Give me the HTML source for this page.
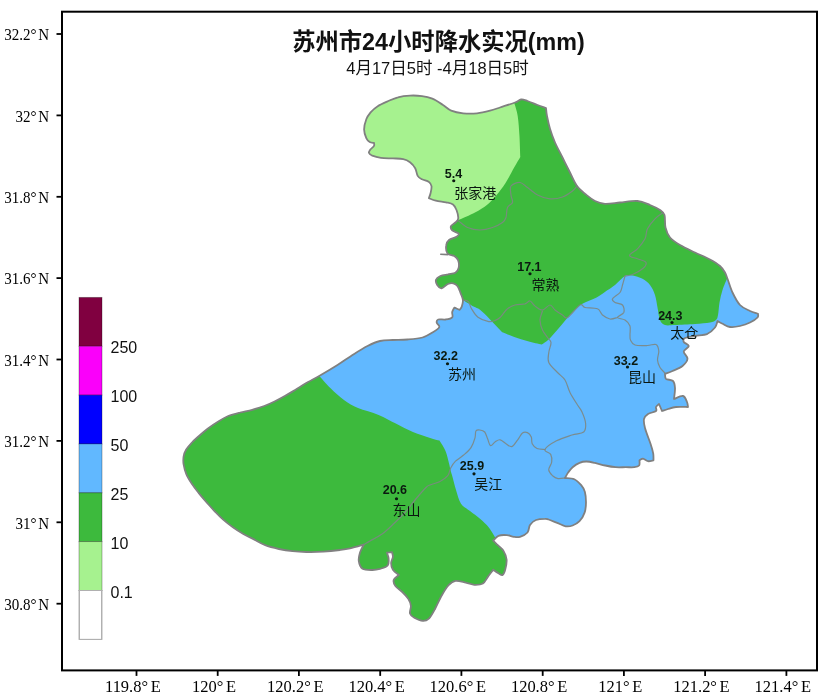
<!DOCTYPE html>
<html lang="zh-CN"><head><meta charset="utf-8"><title>苏州市24小时降水实况</title>
<style>html,body{margin:0;padding:0;background:#fff}svg{display:block}</style></head>
<body>
<svg width="824" height="699" viewBox="0 0 824 699">
<rect width="824" height="699" fill="#fff"/>
<defs><clipPath id="oc"><path d="M521.0,99.5C523.1,99.2 524.8,100.1 527.5,101.0C530.2,101.9 534.4,103.8 537.5,105.0C540.6,106.2 544.3,107.4 546.0,108.0C546.2,109.6 546.3,112.5 547.0,116.0C547.7,119.5 548.7,124.3 550.0,128.8C551.3,133.2 552.9,137.7 555.0,142.5C557.1,147.3 560.0,152.5 562.5,157.5C565.0,162.5 567.6,167.8 570.0,172.5C572.4,177.2 574.5,182.5 577.0,186.0C579.5,189.5 582.0,191.2 585.0,193.8C588.0,196.2 591.7,199.3 595.0,201.0C598.3,202.7 600.8,203.5 605.0,203.8C609.2,204.0 614.6,203.0 620.0,202.5C625.4,202.0 632.5,200.6 637.5,201.0C642.5,201.4 646.2,203.5 650.0,205.0C653.8,206.5 657.6,208.3 660.0,210.0C662.4,211.7 663.6,212.1 664.5,215.0C665.4,217.9 664.6,223.8 665.5,227.5C666.4,231.2 667.6,234.6 670.0,237.5C672.4,240.4 675.8,242.5 680.0,245.0C684.2,247.5 690.0,250.1 695.0,252.5C700.0,254.9 705.8,257.2 710.0,259.5C714.2,261.8 717.5,263.8 720.0,266.0C722.5,268.2 723.8,270.4 725.0,272.5C726.2,274.6 726.2,275.4 727.5,278.8C728.8,282.1 730.4,288.1 732.5,292.5C734.6,296.9 737.1,301.9 740.0,305.0C742.9,308.1 747.0,309.5 750.0,311.0C753.0,312.5 756.4,313.2 758.0,313.8C757.9,314.5 758.8,316.0 757.5,317.5C756.2,319.0 752.9,321.1 750.0,322.5C747.1,323.9 743.3,325.2 740.0,326.0C736.7,326.8 732.9,327.4 730.0,327.0C727.1,326.6 724.6,324.8 722.5,323.8C720.4,322.8 718.5,321.6 717.5,321.0C717.0,322.3 716.7,325.4 715.0,327.5C713.3,329.6 710.8,332.3 707.5,333.8C704.2,335.2 698.8,335.3 695.0,336.0C691.2,336.7 686.9,337.0 685.0,338.0C683.1,339.0 683.1,340.7 683.8,342.0C684.4,343.3 688.8,344.4 688.8,346.0C688.8,347.6 684.0,349.4 683.8,351.5C683.5,353.6 687.7,356.3 687.5,358.8C687.3,361.2 685.0,364.0 682.5,366.0C680.0,368.0 675.4,369.7 672.5,371.0C669.6,372.3 666.5,373.2 665.0,373.8C665.2,374.8 664.7,377.5 666.0,378.8C667.3,380.0 671.5,379.5 673.0,381.0C674.5,382.5 674.8,385.0 675.0,388.0C675.2,391.0 674.2,396.8 674.0,399.0C675.8,398.4 680.8,395.5 683.0,396.0C685.2,396.5 686.2,400.2 687.0,402.0C687.8,403.8 687.8,406.0 688.0,407.0C685.6,407.0 679.3,406.7 676.0,407.0C672.7,407.3 670.3,408.3 668.0,409.0C665.7,409.7 663.2,410.6 662.0,411.0C661.4,409.6 659.6,405.4 659.0,404.0C658.4,404.6 656.5,405.8 656.0,407.0C655.5,408.2 657.3,409.8 656.0,411.0C654.7,412.2 650.0,412.7 648.0,414.0C646.0,415.3 644.5,416.7 644.0,419.0C643.5,421.3 643.9,423.8 645.0,428.0C646.1,432.2 649.2,439.8 650.6,444.0C652.0,448.2 652.7,450.7 653.2,453.4C653.7,456.1 653.4,458.9 653.5,460.3C652.4,460.5 649.8,461.5 648.0,461.2C646.2,460.9 644.4,458.8 643.0,458.6C641.6,458.5 640.2,460.0 639.5,460.3C639.4,461.3 640.0,464.4 639.1,465.5C638.2,466.6 636.5,466.9 634.3,467.2C632.1,467.5 628.9,467.2 625.8,467.2C622.7,467.2 618.9,467.5 615.5,467.2C612.1,466.9 608.6,466.2 605.2,465.5C601.8,464.8 598.0,463.6 594.9,462.9C591.8,462.2 588.9,461.5 586.3,461.5C583.7,461.5 581.8,461.9 579.5,462.9C577.2,463.8 574.5,465.6 572.6,467.2C570.7,468.8 569.6,470.5 568.3,472.3C567.0,474.1 565.6,476.9 564.9,478.0C566.8,478.2 571.6,478.0 574.3,479.2C577.0,480.4 579.4,483.1 581.2,485.2C583.0,487.3 584.1,489.1 584.9,492.0C585.7,494.9 586.0,498.9 586.0,502.3C586.0,505.7 585.7,509.5 584.6,512.6C583.5,515.8 581.5,519.1 579.5,521.2C577.5,523.4 574.9,524.6 572.6,525.5C570.3,526.4 568.3,526.7 565.7,526.3C563.1,525.9 560.1,524.0 557.2,522.9C554.4,521.8 550.6,520.2 548.6,519.5C546.6,518.8 547.1,518.7 545.0,518.8C542.9,518.8 538.5,519.0 536.0,520.0C533.5,521.0 531.4,522.9 530.0,525.0C528.6,527.1 529.2,530.5 527.5,532.5C525.8,534.5 522.3,536.1 520.0,536.8C517.7,537.5 516.0,537.1 513.8,536.8C511.6,536.5 509.5,535.3 506.9,535.1C504.3,534.9 500.7,534.9 498.4,535.8C496.1,536.7 494.2,539.6 493.2,540.6C494.2,541.6 496.7,544.0 498.4,545.7C500.1,547.4 502.1,548.6 503.5,550.9C504.9,553.2 506.3,556.4 506.6,559.5C506.9,562.6 505.9,567.1 505.2,569.7C504.5,572.3 503.7,574.3 502.6,574.9C501.5,575.5 500.0,574.1 498.4,573.2C496.8,572.3 494.2,570.4 493.2,569.7C492.2,571.1 489.7,574.3 488.0,576.6C486.3,578.9 485.2,582.1 482.9,583.5C480.6,584.9 477.1,584.9 474.3,584.8C471.5,584.6 468.9,583.2 465.8,582.6C462.7,582.0 458.4,580.5 455.5,580.9C452.6,581.3 450.9,582.8 448.6,585.2C446.3,587.6 444.0,591.5 441.7,595.5C439.4,599.5 437.0,605.4 434.9,609.2C432.8,613.1 430.9,616.7 428.9,618.6C426.9,620.5 425.3,621.0 422.9,620.9C420.5,620.8 416.4,619.0 414.3,617.8C412.2,616.6 410.6,615.5 410.0,613.5C409.4,611.5 411.2,608.2 410.9,605.8C410.6,603.4 409.7,601.2 408.3,598.9C406.9,596.6 404.5,594.1 402.3,592.0C400.1,589.9 396.8,588.0 395.4,586.0C394.0,584.0 393.1,581.9 393.7,580.0C394.3,578.1 397.9,575.9 398.9,574.9C397.7,573.9 394.2,571.7 392.9,569.7C391.6,567.7 391.1,565.0 391.1,562.9C391.1,560.8 392.8,558.7 392.9,556.9C393.0,555.1 392.2,553.1 392.0,552.2C391.0,552.3 387.9,552.5 386.9,552.6C387.2,553.8 388.5,556.5 388.6,558.6C388.7,560.8 389.1,563.8 387.7,565.5C386.3,567.2 382.5,568.1 380.0,568.9C377.5,569.6 375.4,570.0 372.5,570.0C369.6,570.0 364.8,570.2 362.5,568.8C360.2,567.2 359.2,563.7 358.8,561.0C358.3,558.3 359.2,555.2 360.0,552.5C360.8,549.8 363.0,546.1 363.8,544.5C361.0,545.3 354.0,547.4 350.0,548.3C346.0,549.2 344.4,549.4 340.0,550.0C335.6,550.6 329.1,551.4 323.5,551.7C317.9,552.0 311.4,552.1 306.3,552.0C301.2,551.9 297.2,551.7 292.6,551.2C288.0,550.7 283.5,550.0 278.9,549.0C274.3,548.0 269.5,546.9 265.2,545.2C260.9,543.5 256.7,540.8 253.0,538.9C249.3,537.0 246.2,535.6 242.9,533.7C239.6,531.8 236.2,529.7 232.9,527.3C229.6,524.9 226.0,522.1 222.9,519.4C219.8,516.6 217.2,513.8 214.3,510.8C211.5,507.8 208.4,504.5 205.8,501.5C203.2,498.5 200.9,495.8 198.6,492.9C196.3,490.0 194.2,487.4 192.2,484.3C190.2,481.2 187.8,477.6 186.4,474.3C185.0,471.0 184.1,467.3 183.6,464.3C183.1,461.3 183.2,459.0 183.6,456.5C184.0,454.0 184.8,451.8 186.2,449.5C187.6,447.2 189.9,444.8 192.0,442.5C194.1,440.2 196.4,438.3 199.0,436.0C201.6,433.7 204.4,431.1 207.6,428.7C210.8,426.3 214.5,423.8 217.9,421.7C221.3,419.6 224.5,417.5 228.2,416.0C231.9,414.5 236.2,413.5 240.2,412.5C244.2,411.5 248.2,410.9 252.2,409.8C256.2,408.7 260.5,407.4 264.2,406.0C267.9,404.6 271.1,403.2 274.5,401.5C277.9,399.8 281.4,397.9 284.8,396.0C288.2,394.1 291.7,392.0 295.1,390.0C298.5,388.0 300.9,386.2 305.0,383.8C309.1,381.3 314.6,378.6 320.0,375.5C325.4,372.4 332.1,368.4 337.5,365.0C342.9,361.6 347.5,358.2 352.5,355.0C357.5,351.8 362.9,348.3 367.5,346.0C372.1,343.7 375.8,342.0 380.0,341.0C384.2,340.0 387.9,340.2 392.5,340.0C397.1,339.8 402.5,339.9 407.5,339.5C412.5,339.1 418.3,338.7 422.5,337.5C426.7,336.3 430.1,334.1 432.9,332.3C435.7,330.6 438.7,328.6 439.3,327.0C439.9,325.4 436.9,323.9 436.7,322.7C436.5,321.4 436.7,320.0 438.2,319.5C439.7,319.0 443.5,319.9 445.8,319.5C448.1,319.1 451.1,318.6 452.2,317.3C453.3,316.1 451.8,313.6 452.2,312.0C452.6,310.4 453.9,308.6 454.3,307.7C455.4,308.1 458.6,309.4 459.7,309.8C460.1,309.2 461.3,308.2 461.8,306.6C462.3,305.0 463.1,302.1 462.9,300.0C462.7,297.9 461.7,296.0 460.8,293.7C459.9,291.4 458.9,287.9 457.6,286.2C456.4,284.5 454.9,283.8 453.3,283.4C451.7,283.0 449.9,283.2 447.9,284.0C445.9,284.8 443.3,288.1 441.5,288.3C439.7,288.5 438.1,286.4 437.2,285.0C436.3,283.6 435.5,281.3 436.0,279.8C436.5,278.3 438.4,276.9 440.4,276.0C442.4,275.1 445.4,274.9 447.9,274.4C450.4,273.8 453.6,273.8 455.4,272.7C457.2,271.6 458.1,270.0 458.6,268.0C459.1,266.0 458.9,262.5 458.2,260.5C457.5,258.5 456.1,257.2 454.3,256.0C452.5,254.8 448.9,255.3 447.5,253.5C446.1,251.7 445.9,247.7 446.2,245.4C446.4,243.2 447.3,241.4 449.0,240.0C450.7,238.6 454.9,237.9 456.5,236.8C458.1,235.7 459.3,234.7 458.6,233.6C457.9,232.5 453.5,231.7 452.2,230.4C450.9,229.1 450.5,227.3 451.0,226.0C451.5,224.7 454.2,223.7 455.4,222.5C456.6,221.3 458.0,220.7 458.2,218.6C458.4,216.5 457.4,212.3 456.5,210.0C455.6,207.7 454.8,205.8 453.0,204.5C451.2,203.2 448.9,203.0 446.0,202.3C443.1,201.7 438.7,201.3 435.8,200.6C432.9,199.9 430.3,198.7 428.9,198.2C429.2,197.2 430.2,195.0 430.6,193.0C431.0,191.0 431.8,188.0 431.5,186.2C431.2,184.3 430.5,183.1 428.9,181.9C427.3,180.8 423.9,180.3 422.0,179.3C420.1,178.3 418.8,177.8 417.7,175.9C416.6,174.1 416.5,170.5 415.2,168.2C413.9,165.9 412.0,163.7 410.0,162.2C408.0,160.7 406.1,159.7 403.2,159.1C400.3,158.5 396.6,158.6 392.9,158.4C389.2,158.2 384.3,158.4 380.9,157.9C377.5,157.4 374.3,156.5 372.3,155.7C370.3,154.8 369.2,153.9 368.9,152.8C368.6,151.7 369.8,150.5 370.6,149.3C371.5,148.2 373.4,147.0 374.0,145.9C374.6,144.8 374.0,143.6 374.0,143.0C373.1,142.8 371.0,142.8 369.7,142.0C368.4,141.2 367.2,140.3 366.3,138.2C365.4,136.1 364.1,132.8 364.1,129.6C364.1,126.4 365.2,122.2 366.3,119.3C367.4,116.4 368.8,114.6 370.6,112.4C372.5,110.2 374.5,108.2 377.4,106.4C380.2,104.6 384.3,102.8 387.7,101.3C391.1,99.8 394.3,98.2 398.0,97.3C401.7,96.3 406.0,95.8 410.0,95.6C414.0,95.4 418.3,95.6 422.0,96.1C425.7,96.6 428.9,97.3 432.3,98.7C435.7,100.1 439.5,102.7 442.6,104.7C445.8,106.7 447.8,109.3 451.2,110.7C454.6,112.1 458.9,112.9 463.2,113.3C467.5,113.7 472.5,113.7 477.0,113.3C481.5,112.9 486.2,111.7 490.0,110.7C493.8,109.7 495.8,108.9 500.0,107.5C504.2,106.1 511.5,103.8 515.0,102.5C518.5,101.2 518.9,99.8 521.0,99.5Z"/></clipPath></defs>
<path d="M521.0,99.5C523.1,99.2 524.8,100.1 527.5,101.0C530.2,101.9 534.4,103.8 537.5,105.0C540.6,106.2 544.3,107.4 546.0,108.0C546.2,109.6 546.3,112.5 547.0,116.0C547.7,119.5 548.7,124.3 550.0,128.8C551.3,133.2 552.9,137.7 555.0,142.5C557.1,147.3 560.0,152.5 562.5,157.5C565.0,162.5 567.6,167.8 570.0,172.5C572.4,177.2 574.5,182.5 577.0,186.0C579.5,189.5 582.0,191.2 585.0,193.8C588.0,196.2 591.7,199.3 595.0,201.0C598.3,202.7 600.8,203.5 605.0,203.8C609.2,204.0 614.6,203.0 620.0,202.5C625.4,202.0 632.5,200.6 637.5,201.0C642.5,201.4 646.2,203.5 650.0,205.0C653.8,206.5 657.6,208.3 660.0,210.0C662.4,211.7 663.6,212.1 664.5,215.0C665.4,217.9 664.6,223.8 665.5,227.5C666.4,231.2 667.6,234.6 670.0,237.5C672.4,240.4 675.8,242.5 680.0,245.0C684.2,247.5 690.0,250.1 695.0,252.5C700.0,254.9 705.8,257.2 710.0,259.5C714.2,261.8 717.5,263.8 720.0,266.0C722.5,268.2 723.8,270.4 725.0,272.5C726.2,274.6 726.2,275.4 727.5,278.8C728.8,282.1 730.4,288.1 732.5,292.5C734.6,296.9 737.1,301.9 740.0,305.0C742.9,308.1 747.0,309.5 750.0,311.0C753.0,312.5 756.4,313.2 758.0,313.8C757.9,314.5 758.8,316.0 757.5,317.5C756.2,319.0 752.9,321.1 750.0,322.5C747.1,323.9 743.3,325.2 740.0,326.0C736.7,326.8 732.9,327.4 730.0,327.0C727.1,326.6 724.6,324.8 722.5,323.8C720.4,322.8 718.5,321.6 717.5,321.0C717.0,322.3 716.7,325.4 715.0,327.5C713.3,329.6 710.8,332.3 707.5,333.8C704.2,335.2 698.8,335.3 695.0,336.0C691.2,336.7 686.9,337.0 685.0,338.0C683.1,339.0 683.1,340.7 683.8,342.0C684.4,343.3 688.8,344.4 688.8,346.0C688.8,347.6 684.0,349.4 683.8,351.5C683.5,353.6 687.7,356.3 687.5,358.8C687.3,361.2 685.0,364.0 682.5,366.0C680.0,368.0 675.4,369.7 672.5,371.0C669.6,372.3 666.5,373.2 665.0,373.8C665.2,374.8 664.7,377.5 666.0,378.8C667.3,380.0 671.5,379.5 673.0,381.0C674.5,382.5 674.8,385.0 675.0,388.0C675.2,391.0 674.2,396.8 674.0,399.0C675.8,398.4 680.8,395.5 683.0,396.0C685.2,396.5 686.2,400.2 687.0,402.0C687.8,403.8 687.8,406.0 688.0,407.0C685.6,407.0 679.3,406.7 676.0,407.0C672.7,407.3 670.3,408.3 668.0,409.0C665.7,409.7 663.2,410.6 662.0,411.0C661.4,409.6 659.6,405.4 659.0,404.0C658.4,404.6 656.5,405.8 656.0,407.0C655.5,408.2 657.3,409.8 656.0,411.0C654.7,412.2 650.0,412.7 648.0,414.0C646.0,415.3 644.5,416.7 644.0,419.0C643.5,421.3 643.9,423.8 645.0,428.0C646.1,432.2 649.2,439.8 650.6,444.0C652.0,448.2 652.7,450.7 653.2,453.4C653.7,456.1 653.4,458.9 653.5,460.3C652.4,460.5 649.8,461.5 648.0,461.2C646.2,460.9 644.4,458.8 643.0,458.6C641.6,458.5 640.2,460.0 639.5,460.3C639.4,461.3 640.0,464.4 639.1,465.5C638.2,466.6 636.5,466.9 634.3,467.2C632.1,467.5 628.9,467.2 625.8,467.2C622.7,467.2 618.9,467.5 615.5,467.2C612.1,466.9 608.6,466.2 605.2,465.5C601.8,464.8 598.0,463.6 594.9,462.9C591.8,462.2 588.9,461.5 586.3,461.5C583.7,461.5 581.8,461.9 579.5,462.9C577.2,463.8 574.5,465.6 572.6,467.2C570.7,468.8 569.6,470.5 568.3,472.3C567.0,474.1 565.6,476.9 564.9,478.0C566.8,478.2 571.6,478.0 574.3,479.2C577.0,480.4 579.4,483.1 581.2,485.2C583.0,487.3 584.1,489.1 584.9,492.0C585.7,494.9 586.0,498.9 586.0,502.3C586.0,505.7 585.7,509.5 584.6,512.6C583.5,515.8 581.5,519.1 579.5,521.2C577.5,523.4 574.9,524.6 572.6,525.5C570.3,526.4 568.3,526.7 565.7,526.3C563.1,525.9 560.1,524.0 557.2,522.9C554.4,521.8 550.6,520.2 548.6,519.5C546.6,518.8 547.1,518.7 545.0,518.8C542.9,518.8 538.5,519.0 536.0,520.0C533.5,521.0 531.4,522.9 530.0,525.0C528.6,527.1 529.2,530.5 527.5,532.5C525.8,534.5 522.3,536.1 520.0,536.8C517.7,537.5 516.0,537.1 513.8,536.8C511.6,536.5 509.5,535.3 506.9,535.1C504.3,534.9 500.7,534.9 498.4,535.8C496.1,536.7 494.2,539.6 493.2,540.6C494.2,541.6 496.7,544.0 498.4,545.7C500.1,547.4 502.1,548.6 503.5,550.9C504.9,553.2 506.3,556.4 506.6,559.5C506.9,562.6 505.9,567.1 505.2,569.7C504.5,572.3 503.7,574.3 502.6,574.9C501.5,575.5 500.0,574.1 498.4,573.2C496.8,572.3 494.2,570.4 493.2,569.7C492.2,571.1 489.7,574.3 488.0,576.6C486.3,578.9 485.2,582.1 482.9,583.5C480.6,584.9 477.1,584.9 474.3,584.8C471.5,584.6 468.9,583.2 465.8,582.6C462.7,582.0 458.4,580.5 455.5,580.9C452.6,581.3 450.9,582.8 448.6,585.2C446.3,587.6 444.0,591.5 441.7,595.5C439.4,599.5 437.0,605.4 434.9,609.2C432.8,613.1 430.9,616.7 428.9,618.6C426.9,620.5 425.3,621.0 422.9,620.9C420.5,620.8 416.4,619.0 414.3,617.8C412.2,616.6 410.6,615.5 410.0,613.5C409.4,611.5 411.2,608.2 410.9,605.8C410.6,603.4 409.7,601.2 408.3,598.9C406.9,596.6 404.5,594.1 402.3,592.0C400.1,589.9 396.8,588.0 395.4,586.0C394.0,584.0 393.1,581.9 393.7,580.0C394.3,578.1 397.9,575.9 398.9,574.9C397.7,573.9 394.2,571.7 392.9,569.7C391.6,567.7 391.1,565.0 391.1,562.9C391.1,560.8 392.8,558.7 392.9,556.9C393.0,555.1 392.2,553.1 392.0,552.2C391.0,552.3 387.9,552.5 386.9,552.6C387.2,553.8 388.5,556.5 388.6,558.6C388.7,560.8 389.1,563.8 387.7,565.5C386.3,567.2 382.5,568.1 380.0,568.9C377.5,569.6 375.4,570.0 372.5,570.0C369.6,570.0 364.8,570.2 362.5,568.8C360.2,567.2 359.2,563.7 358.8,561.0C358.3,558.3 359.2,555.2 360.0,552.5C360.8,549.8 363.0,546.1 363.8,544.5C361.0,545.3 354.0,547.4 350.0,548.3C346.0,549.2 344.4,549.4 340.0,550.0C335.6,550.6 329.1,551.4 323.5,551.7C317.9,552.0 311.4,552.1 306.3,552.0C301.2,551.9 297.2,551.7 292.6,551.2C288.0,550.7 283.5,550.0 278.9,549.0C274.3,548.0 269.5,546.9 265.2,545.2C260.9,543.5 256.7,540.8 253.0,538.9C249.3,537.0 246.2,535.6 242.9,533.7C239.6,531.8 236.2,529.7 232.9,527.3C229.6,524.9 226.0,522.1 222.9,519.4C219.8,516.6 217.2,513.8 214.3,510.8C211.5,507.8 208.4,504.5 205.8,501.5C203.2,498.5 200.9,495.8 198.6,492.9C196.3,490.0 194.2,487.4 192.2,484.3C190.2,481.2 187.8,477.6 186.4,474.3C185.0,471.0 184.1,467.3 183.6,464.3C183.1,461.3 183.2,459.0 183.6,456.5C184.0,454.0 184.8,451.8 186.2,449.5C187.6,447.2 189.9,444.8 192.0,442.5C194.1,440.2 196.4,438.3 199.0,436.0C201.6,433.7 204.4,431.1 207.6,428.7C210.8,426.3 214.5,423.8 217.9,421.7C221.3,419.6 224.5,417.5 228.2,416.0C231.9,414.5 236.2,413.5 240.2,412.5C244.2,411.5 248.2,410.9 252.2,409.8C256.2,408.7 260.5,407.4 264.2,406.0C267.9,404.6 271.1,403.2 274.5,401.5C277.9,399.8 281.4,397.9 284.8,396.0C288.2,394.1 291.7,392.0 295.1,390.0C298.5,388.0 300.9,386.2 305.0,383.8C309.1,381.3 314.6,378.6 320.0,375.5C325.4,372.4 332.1,368.4 337.5,365.0C342.9,361.6 347.5,358.2 352.5,355.0C357.5,351.8 362.9,348.3 367.5,346.0C372.1,343.7 375.8,342.0 380.0,341.0C384.2,340.0 387.9,340.2 392.5,340.0C397.1,339.8 402.5,339.9 407.5,339.5C412.5,339.1 418.3,338.7 422.5,337.5C426.7,336.3 430.1,334.1 432.9,332.3C435.7,330.6 438.7,328.6 439.3,327.0C439.9,325.4 436.9,323.9 436.7,322.7C436.5,321.4 436.7,320.0 438.2,319.5C439.7,319.0 443.5,319.9 445.8,319.5C448.1,319.1 451.1,318.6 452.2,317.3C453.3,316.1 451.8,313.6 452.2,312.0C452.6,310.4 453.9,308.6 454.3,307.7C455.4,308.1 458.6,309.4 459.7,309.8C460.1,309.2 461.3,308.2 461.8,306.6C462.3,305.0 463.1,302.1 462.9,300.0C462.7,297.9 461.7,296.0 460.8,293.7C459.9,291.4 458.9,287.9 457.6,286.2C456.4,284.5 454.9,283.8 453.3,283.4C451.7,283.0 449.9,283.2 447.9,284.0C445.9,284.8 443.3,288.1 441.5,288.3C439.7,288.5 438.1,286.4 437.2,285.0C436.3,283.6 435.5,281.3 436.0,279.8C436.5,278.3 438.4,276.9 440.4,276.0C442.4,275.1 445.4,274.9 447.9,274.4C450.4,273.8 453.6,273.8 455.4,272.7C457.2,271.6 458.1,270.0 458.6,268.0C459.1,266.0 458.9,262.5 458.2,260.5C457.5,258.5 456.1,257.2 454.3,256.0C452.5,254.8 448.9,255.3 447.5,253.5C446.1,251.7 445.9,247.7 446.2,245.4C446.4,243.2 447.3,241.4 449.0,240.0C450.7,238.6 454.9,237.9 456.5,236.8C458.1,235.7 459.3,234.7 458.6,233.6C457.9,232.5 453.5,231.7 452.2,230.4C450.9,229.1 450.5,227.3 451.0,226.0C451.5,224.7 454.2,223.7 455.4,222.5C456.6,221.3 458.0,220.7 458.2,218.6C458.4,216.5 457.4,212.3 456.5,210.0C455.6,207.7 454.8,205.8 453.0,204.5C451.2,203.2 448.9,203.0 446.0,202.3C443.1,201.7 438.7,201.3 435.8,200.6C432.9,199.9 430.3,198.7 428.9,198.2C429.2,197.2 430.2,195.0 430.6,193.0C431.0,191.0 431.8,188.0 431.5,186.2C431.2,184.3 430.5,183.1 428.9,181.9C427.3,180.8 423.9,180.3 422.0,179.3C420.1,178.3 418.8,177.8 417.7,175.9C416.6,174.1 416.5,170.5 415.2,168.2C413.9,165.9 412.0,163.7 410.0,162.2C408.0,160.7 406.1,159.7 403.2,159.1C400.3,158.5 396.6,158.6 392.9,158.4C389.2,158.2 384.3,158.4 380.9,157.9C377.5,157.4 374.3,156.5 372.3,155.7C370.3,154.8 369.2,153.9 368.9,152.8C368.6,151.7 369.8,150.5 370.6,149.3C371.5,148.2 373.4,147.0 374.0,145.9C374.6,144.8 374.0,143.6 374.0,143.0C373.1,142.8 371.0,142.8 369.7,142.0C368.4,141.2 367.2,140.3 366.3,138.2C365.4,136.1 364.1,132.8 364.1,129.6C364.1,126.4 365.2,122.2 366.3,119.3C367.4,116.4 368.8,114.6 370.6,112.4C372.5,110.2 374.5,108.2 377.4,106.4C380.2,104.6 384.3,102.8 387.7,101.3C391.1,99.8 394.3,98.2 398.0,97.3C401.7,96.3 406.0,95.8 410.0,95.6C414.0,95.4 418.3,95.6 422.0,96.1C425.7,96.6 428.9,97.3 432.3,98.7C435.7,100.1 439.5,102.7 442.6,104.7C445.8,106.7 447.8,109.3 451.2,110.7C454.6,112.1 458.9,112.9 463.2,113.3C467.5,113.7 472.5,113.7 477.0,113.3C481.5,112.9 486.2,111.7 490.0,110.7C493.8,109.7 495.8,108.9 500.0,107.5C504.2,106.1 511.5,103.8 515.0,102.5C518.5,101.2 518.9,99.8 521.0,99.5Z" fill="#3dba3d"/>
<g clip-path="url(#oc)"><path d="M514.3,103.0C514.9,105.2 516.8,110.3 517.7,115.9C518.6,121.5 519.1,129.7 519.5,136.5C519.9,143.3 520.1,152.9 520.3,157.0C519.1,159.1 516.7,163.0 514.3,167.3C511.9,171.6 508.8,177.9 505.7,182.8C502.6,187.7 498.5,192.8 495.4,196.5C492.3,200.2 490.3,202.3 486.9,205.0C483.5,207.7 479.7,210.0 475.0,212.5C470.3,215.0 461.2,218.8 458.5,220.0L440.0,225.0L340.0,225.0L340.0,80.0L514.0,80.0Z" fill="#a6f28f"/><path d="M462.9,300.0C464.7,301.1 470.8,305.0 473.6,306.6C476.5,308.2 477.2,307.6 480.0,309.8C482.8,312.0 486.6,315.9 490.3,319.7C494.0,323.4 499.9,329.8 502.3,332.3C504.7,333.2 510.0,335.4 514.3,336.9C518.6,338.4 523.4,339.9 528.0,341.2C532.6,342.5 539.0,343.9 541.7,344.6C543.1,343.6 546.0,341.9 548.6,339.5C551.2,337.1 554.3,333.3 557.2,330.0C560.1,326.7 562.9,323.0 565.8,319.7C568.6,316.4 571.4,313.0 574.3,310.3C577.1,307.6 579.2,305.5 582.9,303.4C586.6,301.2 592.6,299.5 596.6,297.4C600.6,295.3 603.8,292.7 606.9,290.6C610.0,288.5 612.0,287.4 615.0,285.0C618.0,282.6 622.1,277.6 625.0,276.0C627.9,274.4 629.6,275.0 632.5,275.5C635.4,276.0 639.6,277.2 642.5,278.8C645.4,280.3 647.9,282.3 650.0,285.0C652.1,287.7 653.8,291.2 655.0,295.0C656.2,298.8 656.7,303.3 657.5,307.5C658.3,311.7 658.8,317.1 660.0,320.0C661.2,322.9 662.5,324.2 665.0,325.0C667.5,325.8 670.0,325.2 675.0,325.0C680.0,324.8 689.2,324.4 695.0,324.0C700.8,323.6 706.5,323.2 710.0,322.5C713.5,321.8 714.7,321.2 716.0,320.0C717.3,318.8 717.4,317.9 718.0,315.0C718.6,312.1 718.8,306.7 719.5,302.5C720.2,298.3 721.2,294.0 722.5,290.0C723.8,286.0 726.2,280.6 727.0,278.8L790.0,270.0L790.0,650.0L560.0,600.0L510.0,540.0L495.5,538.0C494.4,536.2 491.3,530.7 488.8,527.5C486.2,524.3 483.1,521.5 480.0,518.8C476.9,516.0 473.2,513.5 470.0,511.0C466.8,508.5 463.3,507.2 461.0,503.8C458.7,500.2 457.4,494.5 456.0,490.0C454.6,485.5 453.4,480.3 452.5,477.0C451.6,473.7 451.1,472.4 450.5,470.0C449.9,467.6 449.7,466.1 448.9,462.9C448.1,459.7 447.1,454.6 445.5,450.9C443.9,447.2 440.7,442.7 439.5,440.6C437.6,440.1 434.5,439.4 430.1,438.0C425.7,436.6 418.6,434.4 412.9,432.0C407.2,429.6 401.5,426.4 395.8,423.5C390.1,420.6 384.9,417.5 378.6,414.9C372.3,412.3 363.7,410.4 358.0,408.0C352.3,405.6 348.9,403.6 344.3,400.3C339.7,397.0 334.8,392.4 330.6,388.3C326.5,384.2 321.3,378.1 319.4,376.0L310.0,370.0L430.0,290.0Z" fill="#61b8ff"/></g>
<g fill="none" stroke="#7d8783" stroke-width="1.2" stroke-opacity="0.9" stroke-linejoin="round" stroke-linecap="round">
<path d="M577.0,186.0C576.2,186.8 574.9,189.2 572.5,191.0C570.1,192.8 566.2,195.7 562.5,197.0C558.8,198.3 554.2,199.1 550.0,198.8C545.8,198.4 541.2,196.9 537.5,195.0C533.8,193.1 530.4,189.6 527.5,187.5C524.6,185.4 522.8,182.8 520.0,182.5C517.2,182.2 512.5,183.9 511.0,186.0C509.5,188.1 510.8,192.2 511.0,195.0C511.2,197.8 513.1,200.4 512.5,202.5C511.9,204.6 508.6,205.0 507.5,207.5C506.4,210.0 506.8,215.0 506.0,217.5C505.2,220.0 504.8,220.8 502.5,222.5C500.2,224.2 496.2,226.2 492.5,227.5C488.8,228.8 484.2,230.0 480.0,230.0C475.8,230.0 471.0,229.0 467.5,227.5C464.0,226.0 460.2,222.1 458.8,221.0"/>
<path d="M662.5,213.0C661.2,214.0 657.5,216.1 655.0,218.8C652.5,221.4 649.2,225.4 647.5,228.8C645.8,232.1 646.7,235.4 645.0,238.8C643.3,242.1 640.1,246.0 637.5,248.8C634.9,251.5 629.5,253.8 629.5,255.5C629.5,257.2 634.8,257.6 637.5,258.8C640.2,259.9 645.2,260.8 646.0,262.5C646.8,264.2 644.8,266.8 642.5,268.8C640.2,270.8 635.4,273.3 632.5,274.5C629.6,275.7 626.2,275.8 625.0,276.0"/>
<path d="M625.0,276.0C624.6,277.5 623.3,282.2 622.5,285.0C621.7,287.8 621.7,290.2 620.0,292.5C618.3,294.8 613.3,297.1 612.5,298.8C611.7,300.4 613.3,301.5 615.0,302.5C616.7,303.5 621.0,303.3 622.5,305.0C624.0,306.7 624.6,310.4 623.8,312.5C622.9,314.6 617.3,316.2 617.5,317.5C617.7,318.8 622.9,318.6 625.0,320.0C627.1,321.4 629.2,323.5 630.0,326.0C630.8,328.5 629.9,332.7 630.0,335.0C630.1,337.3 629.7,338.3 630.5,340.0C631.3,341.7 632.2,344.1 635.0,345.0C637.8,345.9 644.0,345.6 647.5,345.5C651.0,345.4 654.1,343.6 656.0,344.5C657.9,345.4 658.5,348.4 658.8,351.0C659.0,353.6 657.3,357.2 657.5,360.0C657.7,362.8 658.8,365.3 660.0,367.5C661.2,369.7 664.2,372.1 665.0,373.0"/>
<path d="M462.9,300.0C463.8,300.2 466.9,300.1 468.3,301.5C469.7,302.9 469.9,306.1 471.5,308.7C473.1,311.3 475.1,315.1 478.0,317.3C480.9,319.5 485.9,321.1 488.7,321.6C491.5,322.1 493.1,321.2 495.0,320.5C496.9,319.8 497.9,319.5 500.0,317.5C502.1,315.5 505.0,310.8 507.5,308.8C510.0,306.7 512.1,305.8 515.0,305.0C517.9,304.2 522.5,304.4 525.0,303.8C527.5,303.1 528.3,300.6 530.0,301.0C531.7,301.4 532.9,304.5 535.0,306.0C537.1,307.5 540.0,310.2 542.5,310.0C545.0,309.8 547.9,305.0 550.0,305.0C552.1,305.0 552.9,308.3 555.0,310.0C557.1,311.7 560.4,313.8 562.5,315.0C564.6,316.2 564.6,319.2 567.5,317.5C570.4,315.8 577.1,306.7 580.0,305.0C582.9,303.3 582.1,306.9 585.0,307.5C587.9,308.1 594.6,307.5 597.5,308.8C600.4,310.0 600.4,313.3 602.5,315.0C604.6,316.7 607.5,318.6 610.0,319.0C612.5,319.4 616.2,317.8 617.5,317.5"/>
<path d="M542.5,311.0C542.1,312.5 540.0,316.8 540.0,320.0C540.0,323.2 541.2,327.1 542.5,330.0C543.8,332.9 546.1,335.4 547.5,337.5C548.9,339.6 550.8,340.0 551.0,342.5C551.2,345.0 549.1,349.2 548.8,352.5C548.4,355.8 547.3,359.2 548.8,362.5C550.2,365.8 554.8,369.6 557.5,372.5C560.2,375.4 562.9,376.7 565.0,380.0C567.1,383.3 567.9,388.3 570.0,392.5C572.1,396.7 575.5,401.8 577.5,405.0C579.5,408.2 580.6,408.9 582.0,412.0C583.4,415.1 585.3,420.0 585.6,423.3C585.9,426.6 586.0,430.1 583.7,432.0C581.4,433.9 576.5,433.5 572.0,435.0C567.5,436.5 561.0,438.4 556.5,440.8C552.0,443.2 545.9,447.2 544.9,449.5C543.9,451.8 549.6,452.3 550.7,454.4C551.8,456.5 552.0,459.4 551.7,462.0C551.4,464.6 548.6,467.6 548.7,469.9C548.9,472.2 551.1,474.2 552.6,475.7C554.1,477.1 556.0,478.2 558.0,478.6C560.0,479.0 563.8,478.1 564.9,478.0"/>
<path d="M544.9,449.5C543.6,449.3 539.1,449.5 537.0,448.5C534.9,447.5 533.2,445.6 532.2,443.7C531.2,441.8 532.1,438.8 531.3,436.9C530.5,435.0 528.9,433.2 527.4,432.6C525.9,432.0 524.1,431.8 522.5,433.0C520.9,434.2 519.5,437.5 517.7,439.8C515.9,442.1 513.8,446.0 511.8,446.6C509.9,447.2 507.9,444.8 506.0,443.7C504.1,442.6 502.0,440.1 500.2,439.8C498.4,439.5 496.9,440.7 495.3,441.7C493.7,442.7 491.8,446.1 490.5,445.6C489.2,445.1 488.6,441.1 487.6,438.8C486.6,436.5 486.0,433.5 484.7,432.0C483.4,430.5 481.3,430.2 479.8,430.0C478.3,429.8 476.7,429.7 475.9,431.0C475.1,432.3 475.8,435.1 475.0,437.9C474.2,440.7 472.9,444.7 471.0,447.6C469.1,450.5 465.9,453.0 463.3,455.3C460.7,457.6 457.6,459.1 455.5,461.2C453.4,463.3 452.0,465.6 450.7,468.0C449.4,470.4 449.6,473.4 447.8,475.7C446.0,477.9 443.0,479.9 440.0,481.5C437.0,483.1 432.3,484.0 430.0,485.0C427.7,486.0 428.5,485.0 426.0,487.5C423.5,490.0 418.5,495.8 415.0,500.0C411.5,504.2 408.3,508.8 405.0,512.5C401.7,516.2 398.8,519.0 395.0,522.5C391.2,526.0 386.7,530.7 382.5,533.8C378.3,536.8 373.1,539.2 370.0,541.0C366.9,542.8 364.8,543.9 363.8,544.5"/>
</g>
<path d="M440.2,254.2L448,254.6" fill="none" stroke="#808080" stroke-width="1.6"/>
<path d="M521.0,99.5C523.1,99.2 524.8,100.1 527.5,101.0C530.2,101.9 534.4,103.8 537.5,105.0C540.6,106.2 544.3,107.4 546.0,108.0C546.2,109.6 546.3,112.5 547.0,116.0C547.7,119.5 548.7,124.3 550.0,128.8C551.3,133.2 552.9,137.7 555.0,142.5C557.1,147.3 560.0,152.5 562.5,157.5C565.0,162.5 567.6,167.8 570.0,172.5C572.4,177.2 574.5,182.5 577.0,186.0C579.5,189.5 582.0,191.2 585.0,193.8C588.0,196.2 591.7,199.3 595.0,201.0C598.3,202.7 600.8,203.5 605.0,203.8C609.2,204.0 614.6,203.0 620.0,202.5C625.4,202.0 632.5,200.6 637.5,201.0C642.5,201.4 646.2,203.5 650.0,205.0C653.8,206.5 657.6,208.3 660.0,210.0C662.4,211.7 663.6,212.1 664.5,215.0C665.4,217.9 664.6,223.8 665.5,227.5C666.4,231.2 667.6,234.6 670.0,237.5C672.4,240.4 675.8,242.5 680.0,245.0C684.2,247.5 690.0,250.1 695.0,252.5C700.0,254.9 705.8,257.2 710.0,259.5C714.2,261.8 717.5,263.8 720.0,266.0C722.5,268.2 723.8,270.4 725.0,272.5C726.2,274.6 726.2,275.4 727.5,278.8C728.8,282.1 730.4,288.1 732.5,292.5C734.6,296.9 737.1,301.9 740.0,305.0C742.9,308.1 747.0,309.5 750.0,311.0C753.0,312.5 756.4,313.2 758.0,313.8C757.9,314.5 758.8,316.0 757.5,317.5C756.2,319.0 752.9,321.1 750.0,322.5C747.1,323.9 743.3,325.2 740.0,326.0C736.7,326.8 732.9,327.4 730.0,327.0C727.1,326.6 724.6,324.8 722.5,323.8C720.4,322.8 718.5,321.6 717.5,321.0C717.0,322.3 716.7,325.4 715.0,327.5C713.3,329.6 710.8,332.3 707.5,333.8C704.2,335.2 698.8,335.3 695.0,336.0C691.2,336.7 686.9,337.0 685.0,338.0C683.1,339.0 683.1,340.7 683.8,342.0C684.4,343.3 688.8,344.4 688.8,346.0C688.8,347.6 684.0,349.4 683.8,351.5C683.5,353.6 687.7,356.3 687.5,358.8C687.3,361.2 685.0,364.0 682.5,366.0C680.0,368.0 675.4,369.7 672.5,371.0C669.6,372.3 666.5,373.2 665.0,373.8C665.2,374.8 664.7,377.5 666.0,378.8C667.3,380.0 671.5,379.5 673.0,381.0C674.5,382.5 674.8,385.0 675.0,388.0C675.2,391.0 674.2,396.8 674.0,399.0C675.8,398.4 680.8,395.5 683.0,396.0C685.2,396.5 686.2,400.2 687.0,402.0C687.8,403.8 687.8,406.0 688.0,407.0C685.6,407.0 679.3,406.7 676.0,407.0C672.7,407.3 670.3,408.3 668.0,409.0C665.7,409.7 663.2,410.6 662.0,411.0C661.4,409.6 659.6,405.4 659.0,404.0C658.4,404.6 656.5,405.8 656.0,407.0C655.5,408.2 657.3,409.8 656.0,411.0C654.7,412.2 650.0,412.7 648.0,414.0C646.0,415.3 644.5,416.7 644.0,419.0C643.5,421.3 643.9,423.8 645.0,428.0C646.1,432.2 649.2,439.8 650.6,444.0C652.0,448.2 652.7,450.7 653.2,453.4C653.7,456.1 653.4,458.9 653.5,460.3C652.4,460.5 649.8,461.5 648.0,461.2C646.2,460.9 644.4,458.8 643.0,458.6C641.6,458.5 640.2,460.0 639.5,460.3C639.4,461.3 640.0,464.4 639.1,465.5C638.2,466.6 636.5,466.9 634.3,467.2C632.1,467.5 628.9,467.2 625.8,467.2C622.7,467.2 618.9,467.5 615.5,467.2C612.1,466.9 608.6,466.2 605.2,465.5C601.8,464.8 598.0,463.6 594.9,462.9C591.8,462.2 588.9,461.5 586.3,461.5C583.7,461.5 581.8,461.9 579.5,462.9C577.2,463.8 574.5,465.6 572.6,467.2C570.7,468.8 569.6,470.5 568.3,472.3C567.0,474.1 565.6,476.9 564.9,478.0C566.8,478.2 571.6,478.0 574.3,479.2C577.0,480.4 579.4,483.1 581.2,485.2C583.0,487.3 584.1,489.1 584.9,492.0C585.7,494.9 586.0,498.9 586.0,502.3C586.0,505.7 585.7,509.5 584.6,512.6C583.5,515.8 581.5,519.1 579.5,521.2C577.5,523.4 574.9,524.6 572.6,525.5C570.3,526.4 568.3,526.7 565.7,526.3C563.1,525.9 560.1,524.0 557.2,522.9C554.4,521.8 550.6,520.2 548.6,519.5C546.6,518.8 547.1,518.7 545.0,518.8C542.9,518.8 538.5,519.0 536.0,520.0C533.5,521.0 531.4,522.9 530.0,525.0C528.6,527.1 529.2,530.5 527.5,532.5C525.8,534.5 522.3,536.1 520.0,536.8C517.7,537.5 516.0,537.1 513.8,536.8C511.6,536.5 509.5,535.3 506.9,535.1C504.3,534.9 500.7,534.9 498.4,535.8C496.1,536.7 494.2,539.6 493.2,540.6C494.2,541.6 496.7,544.0 498.4,545.7C500.1,547.4 502.1,548.6 503.5,550.9C504.9,553.2 506.3,556.4 506.6,559.5C506.9,562.6 505.9,567.1 505.2,569.7C504.5,572.3 503.7,574.3 502.6,574.9C501.5,575.5 500.0,574.1 498.4,573.2C496.8,572.3 494.2,570.4 493.2,569.7C492.2,571.1 489.7,574.3 488.0,576.6C486.3,578.9 485.2,582.1 482.9,583.5C480.6,584.9 477.1,584.9 474.3,584.8C471.5,584.6 468.9,583.2 465.8,582.6C462.7,582.0 458.4,580.5 455.5,580.9C452.6,581.3 450.9,582.8 448.6,585.2C446.3,587.6 444.0,591.5 441.7,595.5C439.4,599.5 437.0,605.4 434.9,609.2C432.8,613.1 430.9,616.7 428.9,618.6C426.9,620.5 425.3,621.0 422.9,620.9C420.5,620.8 416.4,619.0 414.3,617.8C412.2,616.6 410.6,615.5 410.0,613.5C409.4,611.5 411.2,608.2 410.9,605.8C410.6,603.4 409.7,601.2 408.3,598.9C406.9,596.6 404.5,594.1 402.3,592.0C400.1,589.9 396.8,588.0 395.4,586.0C394.0,584.0 393.1,581.9 393.7,580.0C394.3,578.1 397.9,575.9 398.9,574.9C397.7,573.9 394.2,571.7 392.9,569.7C391.6,567.7 391.1,565.0 391.1,562.9C391.1,560.8 392.8,558.7 392.9,556.9C393.0,555.1 392.2,553.1 392.0,552.2C391.0,552.3 387.9,552.5 386.9,552.6C387.2,553.8 388.5,556.5 388.6,558.6C388.7,560.8 389.1,563.8 387.7,565.5C386.3,567.2 382.5,568.1 380.0,568.9C377.5,569.6 375.4,570.0 372.5,570.0C369.6,570.0 364.8,570.2 362.5,568.8C360.2,567.2 359.2,563.7 358.8,561.0C358.3,558.3 359.2,555.2 360.0,552.5C360.8,549.8 363.0,546.1 363.8,544.5C361.0,545.3 354.0,547.4 350.0,548.3C346.0,549.2 344.4,549.4 340.0,550.0C335.6,550.6 329.1,551.4 323.5,551.7C317.9,552.0 311.4,552.1 306.3,552.0C301.2,551.9 297.2,551.7 292.6,551.2C288.0,550.7 283.5,550.0 278.9,549.0C274.3,548.0 269.5,546.9 265.2,545.2C260.9,543.5 256.7,540.8 253.0,538.9C249.3,537.0 246.2,535.6 242.9,533.7C239.6,531.8 236.2,529.7 232.9,527.3C229.6,524.9 226.0,522.1 222.9,519.4C219.8,516.6 217.2,513.8 214.3,510.8C211.5,507.8 208.4,504.5 205.8,501.5C203.2,498.5 200.9,495.8 198.6,492.9C196.3,490.0 194.2,487.4 192.2,484.3C190.2,481.2 187.8,477.6 186.4,474.3C185.0,471.0 184.1,467.3 183.6,464.3C183.1,461.3 183.2,459.0 183.6,456.5C184.0,454.0 184.8,451.8 186.2,449.5C187.6,447.2 189.9,444.8 192.0,442.5C194.1,440.2 196.4,438.3 199.0,436.0C201.6,433.7 204.4,431.1 207.6,428.7C210.8,426.3 214.5,423.8 217.9,421.7C221.3,419.6 224.5,417.5 228.2,416.0C231.9,414.5 236.2,413.5 240.2,412.5C244.2,411.5 248.2,410.9 252.2,409.8C256.2,408.7 260.5,407.4 264.2,406.0C267.9,404.6 271.1,403.2 274.5,401.5C277.9,399.8 281.4,397.9 284.8,396.0C288.2,394.1 291.7,392.0 295.1,390.0C298.5,388.0 300.9,386.2 305.0,383.8C309.1,381.3 314.6,378.6 320.0,375.5C325.4,372.4 332.1,368.4 337.5,365.0C342.9,361.6 347.5,358.2 352.5,355.0C357.5,351.8 362.9,348.3 367.5,346.0C372.1,343.7 375.8,342.0 380.0,341.0C384.2,340.0 387.9,340.2 392.5,340.0C397.1,339.8 402.5,339.9 407.5,339.5C412.5,339.1 418.3,338.7 422.5,337.5C426.7,336.3 430.1,334.1 432.9,332.3C435.7,330.6 438.7,328.6 439.3,327.0C439.9,325.4 436.9,323.9 436.7,322.7C436.5,321.4 436.7,320.0 438.2,319.5C439.7,319.0 443.5,319.9 445.8,319.5C448.1,319.1 451.1,318.6 452.2,317.3C453.3,316.1 451.8,313.6 452.2,312.0C452.6,310.4 453.9,308.6 454.3,307.7C455.4,308.1 458.6,309.4 459.7,309.8C460.1,309.2 461.3,308.2 461.8,306.6C462.3,305.0 463.1,302.1 462.9,300.0C462.7,297.9 461.7,296.0 460.8,293.7C459.9,291.4 458.9,287.9 457.6,286.2C456.4,284.5 454.9,283.8 453.3,283.4C451.7,283.0 449.9,283.2 447.9,284.0C445.9,284.8 443.3,288.1 441.5,288.3C439.7,288.5 438.1,286.4 437.2,285.0C436.3,283.6 435.5,281.3 436.0,279.8C436.5,278.3 438.4,276.9 440.4,276.0C442.4,275.1 445.4,274.9 447.9,274.4C450.4,273.8 453.6,273.8 455.4,272.7C457.2,271.6 458.1,270.0 458.6,268.0C459.1,266.0 458.9,262.5 458.2,260.5C457.5,258.5 456.1,257.2 454.3,256.0C452.5,254.8 448.9,255.3 447.5,253.5C446.1,251.7 445.9,247.7 446.2,245.4C446.4,243.2 447.3,241.4 449.0,240.0C450.7,238.6 454.9,237.9 456.5,236.8C458.1,235.7 459.3,234.7 458.6,233.6C457.9,232.5 453.5,231.7 452.2,230.4C450.9,229.1 450.5,227.3 451.0,226.0C451.5,224.7 454.2,223.7 455.4,222.5C456.6,221.3 458.0,220.7 458.2,218.6C458.4,216.5 457.4,212.3 456.5,210.0C455.6,207.7 454.8,205.8 453.0,204.5C451.2,203.2 448.9,203.0 446.0,202.3C443.1,201.7 438.7,201.3 435.8,200.6C432.9,199.9 430.3,198.7 428.9,198.2C429.2,197.2 430.2,195.0 430.6,193.0C431.0,191.0 431.8,188.0 431.5,186.2C431.2,184.3 430.5,183.1 428.9,181.9C427.3,180.8 423.9,180.3 422.0,179.3C420.1,178.3 418.8,177.8 417.7,175.9C416.6,174.1 416.5,170.5 415.2,168.2C413.9,165.9 412.0,163.7 410.0,162.2C408.0,160.7 406.1,159.7 403.2,159.1C400.3,158.5 396.6,158.6 392.9,158.4C389.2,158.2 384.3,158.4 380.9,157.9C377.5,157.4 374.3,156.5 372.3,155.7C370.3,154.8 369.2,153.9 368.9,152.8C368.6,151.7 369.8,150.5 370.6,149.3C371.5,148.2 373.4,147.0 374.0,145.9C374.6,144.8 374.0,143.6 374.0,143.0C373.1,142.8 371.0,142.8 369.7,142.0C368.4,141.2 367.2,140.3 366.3,138.2C365.4,136.1 364.1,132.8 364.1,129.6C364.1,126.4 365.2,122.2 366.3,119.3C367.4,116.4 368.8,114.6 370.6,112.4C372.5,110.2 374.5,108.2 377.4,106.4C380.2,104.6 384.3,102.8 387.7,101.3C391.1,99.8 394.3,98.2 398.0,97.3C401.7,96.3 406.0,95.8 410.0,95.6C414.0,95.4 418.3,95.6 422.0,96.1C425.7,96.6 428.9,97.3 432.3,98.7C435.7,100.1 439.5,102.7 442.6,104.7C445.8,106.7 447.8,109.3 451.2,110.7C454.6,112.1 458.9,112.9 463.2,113.3C467.5,113.7 472.5,113.7 477.0,113.3C481.5,112.9 486.2,111.7 490.0,110.7C493.8,109.7 495.8,108.9 500.0,107.5C504.2,106.1 511.5,103.8 515.0,102.5C518.5,101.2 518.9,99.8 521.0,99.5Z" fill="none" stroke="#808080" stroke-width="1.8" stroke-linejoin="round"/>
<rect x="62.0" y="11.7" width="755.0" height="658.6999999999999" fill="none" stroke="#000" stroke-width="2"/>
<g stroke="#000" stroke-width="1.8">
<line x1="136.5" y1="670.4" x2="136.5" y2="675.9"/>
<line x1="217.7" y1="670.4" x2="217.7" y2="675.9"/>
<line x1="298.9" y1="670.4" x2="298.9" y2="675.9"/>
<line x1="380.2" y1="670.4" x2="380.2" y2="675.9"/>
<line x1="461.4" y1="670.4" x2="461.4" y2="675.9"/>
<line x1="542.7" y1="670.4" x2="542.7" y2="675.9"/>
<line x1="623.9" y1="670.4" x2="623.9" y2="675.9"/>
<line x1="705.1" y1="670.4" x2="705.1" y2="675.9"/>
<line x1="786.4" y1="670.4" x2="786.4" y2="675.9"/>
<line x1="56.5" y1="34.0" x2="62.0" y2="34.0"/>
<line x1="56.5" y1="115.4" x2="62.0" y2="115.4"/>
<line x1="56.5" y1="196.8" x2="62.0" y2="196.8"/>
<line x1="56.5" y1="278.1" x2="62.0" y2="278.1"/>
<line x1="56.5" y1="359.5" x2="62.0" y2="359.5"/>
<line x1="56.5" y1="440.9" x2="62.0" y2="440.9"/>
<line x1="56.5" y1="522.3" x2="62.0" y2="522.3"/>
<line x1="56.5" y1="603.7" x2="62.0" y2="603.7"/>
</g>
<g font-family="'Liberation Serif', serif" font-size="16" fill="#000">
<text class="xl" transform="translate(132.9,691.9) scale(1.03,1)" text-anchor="middle">119.8°<tspan dx="2.6">E</tspan></text>
<text class="xl" transform="translate(214.1,691.9) scale(1.03,1)" text-anchor="middle">120°<tspan dx="2.6">E</tspan></text>
<text class="xl" transform="translate(295.3,691.9) scale(1.03,1)" text-anchor="middle">120.2°<tspan dx="2.6">E</tspan></text>
<text class="xl" transform="translate(376.6,691.9) scale(1.03,1)" text-anchor="middle">120.4°<tspan dx="2.6">E</tspan></text>
<text class="xl" transform="translate(457.8,691.9) scale(1.03,1)" text-anchor="middle">120.6°<tspan dx="2.6">E</tspan></text>
<text class="xl" transform="translate(539.1,691.9) scale(1.03,1)" text-anchor="middle">120.8°<tspan dx="2.6">E</tspan></text>
<text class="xl" transform="translate(620.3,691.9) scale(1.03,1)" text-anchor="middle">121°<tspan dx="2.6">E</tspan></text>
<text class="xl" transform="translate(701.5,691.9) scale(1.03,1)" text-anchor="middle">121.2°<tspan dx="2.6">E</tspan></text>
<text class="xl" transform="translate(782.8,691.9) scale(1.03,1)" text-anchor="middle">121.4°<tspan dx="2.6">E</tspan></text>
<text class="yl" transform="translate(49.2,40.2) scale(0.94,1)" text-anchor="end">32.2°<tspan dx="2">N</tspan></text>
<text class="yl" transform="translate(49.2,121.6) scale(0.94,1)" text-anchor="end">32°<tspan dx="2">N</tspan></text>
<text class="yl" transform="translate(49.2,203.0) scale(0.94,1)" text-anchor="end">31.8°<tspan dx="2">N</tspan></text>
<text class="yl" transform="translate(49.2,284.3) scale(0.94,1)" text-anchor="end">31.6°<tspan dx="2">N</tspan></text>
<text class="yl" transform="translate(49.2,365.7) scale(0.94,1)" text-anchor="end">31.4°<tspan dx="2">N</tspan></text>
<text class="yl" transform="translate(49.2,447.1) scale(0.94,1)" text-anchor="end">31.2°<tspan dx="2">N</tspan></text>
<text class="yl" transform="translate(49.2,528.5) scale(0.94,1)" text-anchor="end">31°<tspan dx="2">N</tspan></text>
<text class="yl" transform="translate(49.2,609.9) scale(0.94,1)" text-anchor="end">30.8°<tspan dx="2">N</tspan></text>
</g>
<rect x="79" y="297.4" width="23" height="48.9" fill="#800040" stroke="#000" stroke-opacity="0.32" stroke-width="0.9"/>
<rect x="79" y="346.2" width="23" height="48.9" fill="#fa00fa" stroke="#000" stroke-opacity="0.32" stroke-width="0.9"/>
<rect x="79" y="395.1" width="23" height="48.9" fill="#0000ff" stroke="#000" stroke-opacity="0.32" stroke-width="0.9"/>
<rect x="79" y="443.9" width="23" height="48.9" fill="#61b8ff" stroke="#000" stroke-opacity="0.32" stroke-width="0.9"/>
<rect x="79" y="492.8" width="23" height="48.9" fill="#3dba3d" stroke="#000" stroke-opacity="0.32" stroke-width="0.9"/>
<rect x="79" y="541.6" width="23" height="48.9" fill="#a6f28f" stroke="#000" stroke-opacity="0.32" stroke-width="0.9"/>
<rect x="79" y="590.5" width="23" height="48.9" fill="#ffffff" stroke="#000" stroke-opacity="0.32" stroke-width="0.9"/>
<rect x="79.5" y="590.5" width="22" height="48.9" fill="none" stroke="#b0b0b0" stroke-width="1"/>
<g font-family="'Liberation Sans', sans-serif" font-size="16" fill="#111">
<text x="110.5" y="353.2">250</text>
<text x="110.5" y="402.1">100</text>
<text x="110.5" y="450.9">50</text>
<text x="110.5" y="499.8">25</text>
<text x="110.5" y="548.6">10</text>
<text x="110.5" y="597.5">0.1</text>
</g>
<text id="title" x="438.5" y="50" text-anchor="middle" font-family="'Liberation Sans', 'Noto Sans CJK SC', sans-serif" font-weight="bold" font-size="23.3" fill="#111">苏州市24小时降水实况(mm)</text>
<text id="sub" x="437.5" y="74" text-anchor="middle" font-family="'Liberation Sans', 'Noto Sans CJK SC', sans-serif" font-size="16.5" fill="#111">4月17日5时 -4月18日5时</text>
<text class="sv" x="453.4" y="178" text-anchor="middle" font-family="'Liberation Sans', sans-serif" font-weight="bold" font-size="12.5" fill="#0b1a10">5.4</text>
<circle cx="453.75" cy="180.75" r="1.6" fill="#0b1a10"/>
<text class="sn" x="475.25" y="198.2" text-anchor="middle" font-family="'Liberation Sans', 'Noto Sans CJK SC', sans-serif" font-size="14" fill="#0a160f">张家港</text>
<text class="sv" x="529.4" y="271" text-anchor="middle" font-family="'Liberation Sans', sans-serif" font-weight="bold" font-size="12.5" fill="#0b1a10">17.1</text>
<circle cx="530" cy="273.75" r="1.6" fill="#0b1a10"/>
<text class="sn" x="545.4" y="290.2" text-anchor="middle" font-family="'Liberation Sans', 'Noto Sans CJK SC', sans-serif" font-size="14" fill="#0a160f">常熟</text>
<text class="sv" x="670.3" y="319.8" text-anchor="middle" font-family="'Liberation Sans', sans-serif" font-weight="bold" font-size="12.5" fill="#0b1a10">24.3</text>
<circle cx="672" cy="322.5" r="1.6" fill="#0b1a10"/>
<text class="sn" x="684.2" y="337.8" text-anchor="middle" font-family="'Liberation Sans', 'Noto Sans CJK SC', sans-serif" font-size="14" fill="#0a160f">太仓</text>
<text class="sv" x="626" y="364.5" text-anchor="middle" font-family="'Liberation Sans', sans-serif" font-weight="bold" font-size="12.5" fill="#0b1a10">33.2</text>
<circle cx="627.5" cy="367" r="1.6" fill="#0b1a10"/>
<text class="sn" x="642" y="381.5" text-anchor="middle" font-family="'Liberation Sans', 'Noto Sans CJK SC', sans-serif" font-size="14" fill="#0a160f">昆山</text>
<text class="sv" x="445.75" y="360" text-anchor="middle" font-family="'Liberation Sans', sans-serif" font-weight="bold" font-size="12.5" fill="#0b1a10">32.2</text>
<circle cx="447.5" cy="363.75" r="1.6" fill="#0b1a10"/>
<text class="sn" x="462" y="379" text-anchor="middle" font-family="'Liberation Sans', 'Noto Sans CJK SC', sans-serif" font-size="14" fill="#0a160f">苏州</text>
<text class="sv" x="472" y="470" text-anchor="middle" font-family="'Liberation Sans', sans-serif" font-weight="bold" font-size="12.5" fill="#0b1a10">25.9</text>
<circle cx="474" cy="473.8" r="1.6" fill="#0b1a10"/>
<text class="sn" x="488.3" y="489" text-anchor="middle" font-family="'Liberation Sans', 'Noto Sans CJK SC', sans-serif" font-size="14" fill="#0a160f">吴江</text>
<text class="sv" x="394.9" y="494" text-anchor="middle" font-family="'Liberation Sans', sans-serif" font-weight="bold" font-size="12.5" fill="#0b1a10">20.6</text>
<circle cx="396.5" cy="498.75" r="1.6" fill="#0b1a10"/>
<text class="sn" x="406.5" y="514.7" text-anchor="middle" font-family="'Liberation Sans', 'Noto Sans CJK SC', sans-serif" font-size="14" fill="#0a160f">东山</text>
</svg>
</body></html>
